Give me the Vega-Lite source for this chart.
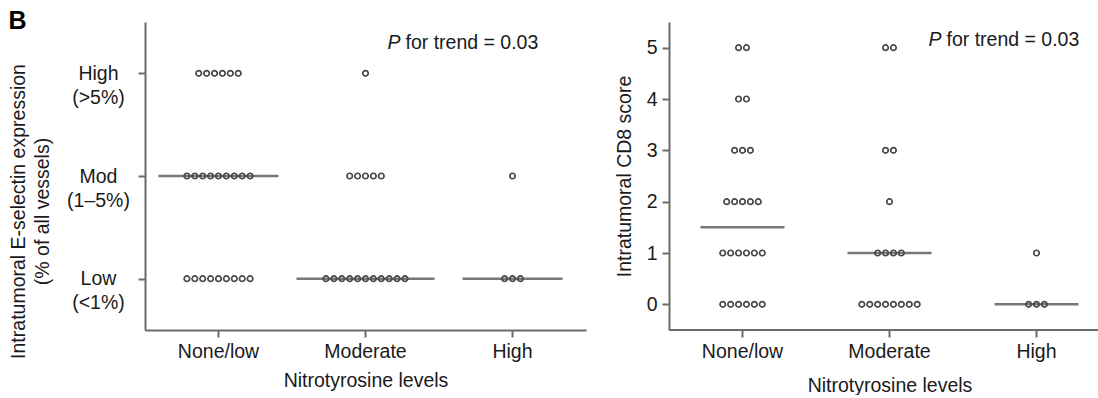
{
  "$schema": "https://vega.github.io/schema/vega-lite/v6.json",
  "padding": {"left": 8, "top": 9, "right": 0, "bottom": 0},
  "background": "white",
  "config": {
    "font": "Liberation Sans",
    "view": {"stroke": null},
    "concat": {"spacing": 28},
    "axis": {
      "grid": false,
      "domainColor": "#6a6a6a",
      "domainWidth": 2,
      "tickColor": "#6a6a6a",
      "tickWidth": 2,
      "tickSize": 7,
      "labelColor": "#1a1a1a",
      "labelFontSize": 19.5,
      "titleColor": "#1a1a1a",
      "titleFontSize": 19.5,
      "titleFontWeight": "normal"
    }
  },
  "datasets": {
    "eselectin": [
      {"nitrotyrosine": "None/low", "eselectin": "High", "slot": -2.5},
      {"nitrotyrosine": "None/low", "eselectin": "High", "slot": -1.5},
      {"nitrotyrosine": "None/low", "eselectin": "High", "slot": -0.5},
      {"nitrotyrosine": "None/low", "eselectin": "High", "slot": 0.5},
      {"nitrotyrosine": "None/low", "eselectin": "High", "slot": 1.5},
      {"nitrotyrosine": "None/low", "eselectin": "High", "slot": 2.5},
      {"nitrotyrosine": "None/low", "eselectin": "Mod", "slot": -4},
      {"nitrotyrosine": "None/low", "eselectin": "Mod", "slot": -3},
      {"nitrotyrosine": "None/low", "eselectin": "Mod", "slot": -2},
      {"nitrotyrosine": "None/low", "eselectin": "Mod", "slot": -1},
      {"nitrotyrosine": "None/low", "eselectin": "Mod", "slot": 0},
      {"nitrotyrosine": "None/low", "eselectin": "Mod", "slot": 1},
      {"nitrotyrosine": "None/low", "eselectin": "Mod", "slot": 2},
      {"nitrotyrosine": "None/low", "eselectin": "Mod", "slot": 3},
      {"nitrotyrosine": "None/low", "eselectin": "Mod", "slot": 4},
      {"nitrotyrosine": "None/low", "eselectin": "Low", "slot": -4},
      {"nitrotyrosine": "None/low", "eselectin": "Low", "slot": -3},
      {"nitrotyrosine": "None/low", "eselectin": "Low", "slot": -2},
      {"nitrotyrosine": "None/low", "eselectin": "Low", "slot": -1},
      {"nitrotyrosine": "None/low", "eselectin": "Low", "slot": 0},
      {"nitrotyrosine": "None/low", "eselectin": "Low", "slot": 1},
      {"nitrotyrosine": "None/low", "eselectin": "Low", "slot": 2},
      {"nitrotyrosine": "None/low", "eselectin": "Low", "slot": 3},
      {"nitrotyrosine": "None/low", "eselectin": "Low", "slot": 4},
      {"nitrotyrosine": "Moderate", "eselectin": "High", "slot": 0},
      {"nitrotyrosine": "Moderate", "eselectin": "Mod", "slot": -2},
      {"nitrotyrosine": "Moderate", "eselectin": "Mod", "slot": -1},
      {"nitrotyrosine": "Moderate", "eselectin": "Mod", "slot": 0},
      {"nitrotyrosine": "Moderate", "eselectin": "Mod", "slot": 1},
      {"nitrotyrosine": "Moderate", "eselectin": "Mod", "slot": 2},
      {"nitrotyrosine": "Moderate", "eselectin": "Low", "slot": -5},
      {"nitrotyrosine": "Moderate", "eselectin": "Low", "slot": -4},
      {"nitrotyrosine": "Moderate", "eselectin": "Low", "slot": -3},
      {"nitrotyrosine": "Moderate", "eselectin": "Low", "slot": -2},
      {"nitrotyrosine": "Moderate", "eselectin": "Low", "slot": -1},
      {"nitrotyrosine": "Moderate", "eselectin": "Low", "slot": 0},
      {"nitrotyrosine": "Moderate", "eselectin": "Low", "slot": 1},
      {"nitrotyrosine": "Moderate", "eselectin": "Low", "slot": 2},
      {"nitrotyrosine": "Moderate", "eselectin": "Low", "slot": 3},
      {"nitrotyrosine": "Moderate", "eselectin": "Low", "slot": 4},
      {"nitrotyrosine": "Moderate", "eselectin": "Low", "slot": 5},
      {"nitrotyrosine": "High", "eselectin": "Mod", "slot": 0},
      {"nitrotyrosine": "High", "eselectin": "Low", "slot": -1},
      {"nitrotyrosine": "High", "eselectin": "Low", "slot": 0},
      {"nitrotyrosine": "High", "eselectin": "Low", "slot": 1}
    ],
    "eselectinMedian": [
      {"nitrotyrosine": "None/low", "eselectin": "Mod"},
      {"nitrotyrosine": "Moderate", "eselectin": "Low"},
      {"nitrotyrosine": "High", "eselectin": "Low"}
    ],
    "cd8": [
      {"nitrotyrosine": "None/low", "score": 5, "slot": -0.5},
      {"nitrotyrosine": "None/low", "score": 5, "slot": 0.5},
      {"nitrotyrosine": "None/low", "score": 4, "slot": -0.5},
      {"nitrotyrosine": "None/low", "score": 4, "slot": 0.5},
      {"nitrotyrosine": "None/low", "score": 3, "slot": -1},
      {"nitrotyrosine": "None/low", "score": 3, "slot": 0},
      {"nitrotyrosine": "None/low", "score": 3, "slot": 1},
      {"nitrotyrosine": "None/low", "score": 2, "slot": -2},
      {"nitrotyrosine": "None/low", "score": 2, "slot": -1},
      {"nitrotyrosine": "None/low", "score": 2, "slot": 0},
      {"nitrotyrosine": "None/low", "score": 2, "slot": 1},
      {"nitrotyrosine": "None/low", "score": 2, "slot": 2},
      {"nitrotyrosine": "None/low", "score": 1, "slot": -2.5},
      {"nitrotyrosine": "None/low", "score": 1, "slot": -1.5},
      {"nitrotyrosine": "None/low", "score": 1, "slot": -0.5},
      {"nitrotyrosine": "None/low", "score": 1, "slot": 0.5},
      {"nitrotyrosine": "None/low", "score": 1, "slot": 1.5},
      {"nitrotyrosine": "None/low", "score": 1, "slot": 2.5},
      {"nitrotyrosine": "None/low", "score": 0, "slot": -2.5},
      {"nitrotyrosine": "None/low", "score": 0, "slot": -1.5},
      {"nitrotyrosine": "None/low", "score": 0, "slot": -0.5},
      {"nitrotyrosine": "None/low", "score": 0, "slot": 0.5},
      {"nitrotyrosine": "None/low", "score": 0, "slot": 1.5},
      {"nitrotyrosine": "None/low", "score": 0, "slot": 2.5},
      {"nitrotyrosine": "Moderate", "score": 5, "slot": -0.5},
      {"nitrotyrosine": "Moderate", "score": 5, "slot": 0.5},
      {"nitrotyrosine": "Moderate", "score": 3, "slot": -0.5},
      {"nitrotyrosine": "Moderate", "score": 3, "slot": 0.5},
      {"nitrotyrosine": "Moderate", "score": 2, "slot": 0},
      {"nitrotyrosine": "Moderate", "score": 1, "slot": -1.5},
      {"nitrotyrosine": "Moderate", "score": 1, "slot": -0.5},
      {"nitrotyrosine": "Moderate", "score": 1, "slot": 0.5},
      {"nitrotyrosine": "Moderate", "score": 1, "slot": 1.5},
      {"nitrotyrosine": "Moderate", "score": 0, "slot": -3.5},
      {"nitrotyrosine": "Moderate", "score": 0, "slot": -2.5},
      {"nitrotyrosine": "Moderate", "score": 0, "slot": -1.5},
      {"nitrotyrosine": "Moderate", "score": 0, "slot": -0.5},
      {"nitrotyrosine": "Moderate", "score": 0, "slot": 0.5},
      {"nitrotyrosine": "Moderate", "score": 0, "slot": 1.5},
      {"nitrotyrosine": "Moderate", "score": 0, "slot": 2.5},
      {"nitrotyrosine": "Moderate", "score": 0, "slot": 3.5},
      {"nitrotyrosine": "High", "score": 1, "slot": 0},
      {"nitrotyrosine": "High", "score": 0, "slot": -1},
      {"nitrotyrosine": "High", "score": 0, "slot": 0},
      {"nitrotyrosine": "High", "score": 0, "slot": 1}
    ]
  },
  "hconcat": [
    {
      "width": 441,
      "height": 308,
      "title": {"text": "B", "anchor": "start", "frame": "bounds", "fontSize": 25, "fontWeight": "bold", "color": "#000000", "offset": 0, "dy": 12},
      "layer": [
        {
          "data": {"name": "eselectinMedian"},
          "mark": {"type": "tick", "orient": "horizontal", "thickness": 2.5, "color": "#3d3d3d"},
          "encoding": {
            "x": {
              "field": "nitrotyrosine", "type": "nominal",
              "scale": {"type": "band", "domain": ["None/low", "Moderate", "High"], "paddingInner": 0, "paddingOuter": 0},
              "axis": {"title": "Nitrotyrosine levels", "labelAngle": 0, "labelPadding": 5, "titlePadding": 11}
            },
            "y": {
              "field": "eselectin", "type": "ordinal",
              "scale": {"type": "point", "domain": ["High", "Mod", "Low"], "padding": 0.5},
              "axis": {
                "title": ["Intratumoral E-selectin expression", "(% of all vessels)"],
                "titleLineHeight": 24,
                "titleY": 189,
                "titlePadding": 14,
                "labelExpr": "datum.value == 'High' ? ['High', '(>5%)'] : datum.value == 'Mod' ? ['Mod', '(1–5%)'] : ['Low', '(<1%)']",
                "labelAlign": "center",
                "labelBaseline": "middle",
                "labelLineHeight": 24,
                "labelPadding": 40
              }
            },
            "size": {
              "condition": [
                {"test": "datum.nitrotyrosine === 'None/low'", "value": 120},
                {"test": "datum.nitrotyrosine === 'Moderate'", "value": 138}
              ],
              "value": 100
            }
          }
        },
        {
          "data": {"name": "eselectin"},
          "mark": {"type": "point", "shape": "circle", "filled": false, "size": 30, "strokeWidth": 1.7, "color": "#484848", "opacity": 1},
          "encoding": {
            "x": {"field": "nitrotyrosine", "type": "nominal", "scale": {"type": "band", "domain": ["None/low", "Moderate", "High"], "paddingInner": 0, "paddingOuter": 0}},
            "xOffset": {"field": "slot", "type": "quantitative", "scale": {"domain": [-10, 10], "range": [-5.5, 152.5]}},
            "y": {"field": "eselectin", "type": "ordinal", "scale": {"type": "point", "domain": ["High", "Mod", "Low"], "padding": 0.5}}
          }
        },
        {
          "data": {"values": [{"label": "P"}]},
          "mark": {"type": "text", "align": "right", "baseline": "middle", "fontStyle": "italic", "fontSize": 19.5, "color": "#1a1a1a", "dx": -112, "dy": -30},
          "encoding": {
            "x": {"datum": "High", "type": "nominal"},
            "y": {"datum": "High", "type": "ordinal"},
            "text": {"field": "label"}
          }
        },
        {
          "data": {"values": [{"label": "for trend = 0.03"}]},
          "mark": {"type": "text", "align": "left", "baseline": "middle", "fontSize": 19.5, "color": "#1a1a1a", "dx": -107, "dy": -30},
          "encoding": {
            "x": {"datum": "High", "type": "nominal"},
            "y": {"datum": "High", "type": "ordinal"},
            "text": {"field": "label"}
          }
        }
      ]
    },
    {
      "width": 433,
      "height": 308,
      "layer": [
        {
          "data": {"name": "cd8"},
          "mark": {"type": "rule", "color": "#6a6a6a", "strokeWidth": 2},
          "encoding": {"y": {"datum": -0.5, "type": "quantitative"}}
        },
        {
          "data": {"name": "cd8"},
          "transform": [{"aggregate": [{"op": "median", "field": "score", "as": "score"}], "groupby": ["nitrotyrosine"]}],
          "mark": {"type": "tick", "orient": "horizontal", "thickness": 2.5, "color": "#3d3d3d", "size": 84},
          "encoding": {
            "x": {
              "field": "nitrotyrosine", "type": "nominal",
              "scale": {"type": "band", "domain": ["None/low", "Moderate", "High"], "paddingInner": 0, "paddingOuter": 0, "range": [0, 441]},
              "axis": {"title": "Nitrotyrosine levels", "labelAngle": 0, "labelPadding": 5, "titlePadding": 16, "domain": false}
            },
            "y": {
              "field": "score", "type": "quantitative",
              "scale": {"domain": [-0.5, 5.5], "nice": false, "zero": false},
              "axis": {"title": "Intratumoral CD8 score", "values": [0, 1, 2, 3, 4, 5], "labelPadding": 5, "titlePadding": 12}
            }
          }
        },
        {
          "data": {"name": "cd8"},
          "mark": {"type": "point", "shape": "circle", "filled": false, "size": 30, "strokeWidth": 1.7, "color": "#484848", "opacity": 1},
          "encoding": {
            "x": {"field": "nitrotyrosine", "type": "nominal", "scale": {"type": "band", "domain": ["None/low", "Moderate", "High"], "paddingInner": 0, "paddingOuter": 0, "range": [0, 441]}},
            "xOffset": {"field": "slot", "type": "quantitative", "scale": {"domain": [-10, 10], "range": [-5.5, 152.5]}},
            "y": {"field": "score", "type": "quantitative", "scale": {"domain": [-0.5, 5.5], "nice": false, "zero": false}}
          }
        },
        {
          "data": {"values": [{"label": "P"}]},
          "mark": {"type": "text", "align": "right", "baseline": "middle", "fontStyle": "italic", "fontSize": 19.5, "color": "#1a1a1a", "dx": -95},
          "encoding": {
            "x": {"datum": "High", "type": "nominal"},
            "y": {"datum": 5.15, "type": "quantitative"},
            "text": {"field": "label"}
          }
        },
        {
          "data": {"values": [{"label": "for trend = 0.03"}]},
          "mark": {"type": "text", "align": "left", "baseline": "middle", "fontSize": 19.5, "color": "#1a1a1a", "dx": -90},
          "encoding": {
            "x": {"datum": "High", "type": "nominal"},
            "y": {"datum": 5.15, "type": "quantitative"},
            "text": {"field": "label"}
          }
        }
      ]
    }
  ]
}
